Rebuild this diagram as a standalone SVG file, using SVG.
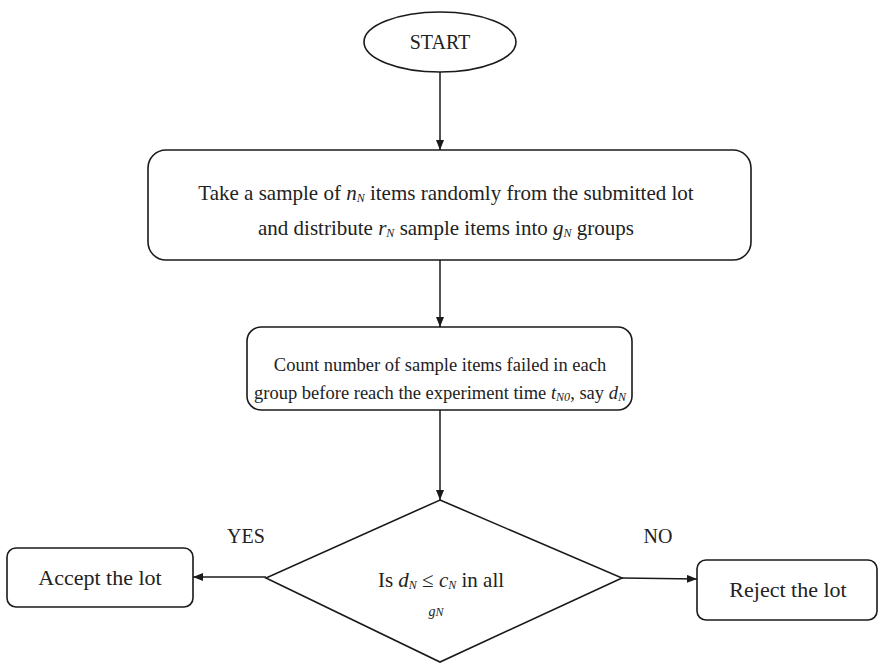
<svg xmlns="http://www.w3.org/2000/svg" width="879" height="669" viewBox="0 0 879 669">
<defs>
<marker id="ah" markerWidth="10" markerHeight="8" refX="10" refY="4" orient="auto" markerUnits="userSpaceOnUse">
<path d="M0,0 L10,4 L0,8 Z" fill="#1a1a1a"/>
</marker>
<style>
.sh{fill:#fff;stroke:#1a1a1a;stroke-width:1.6}
.t{font-family:"Liberation Serif","Times New Roman",serif;font-size:20px;fill:#222;text-anchor:middle}
.b1{font-size:21px}
.b2{font-size:18.5px}
.b3{font-size:22px}
.i{font-style:italic}
.s{font-style:italic;font-size:12px}
.c{stroke:#1a1a1a;stroke-width:1.5;fill:none;marker-end:url(#ah)}
</style>
</defs>
<rect width="879" height="669" fill="#fff"/>
<g id="start">
<ellipse class="sh" cx="440" cy="42" rx="76" ry="30"/>
<text class="t" x="440" y="49">START</text>
</g>
<g id="sample">
<rect class="sh" x="148" y="150" width="603" height="110" rx="18"/>
<text class="t b1" x="446" y="200">Take a sample of <tspan class="i">n</tspan><tspan class="s" dy="2">N</tspan><tspan dy="-2"> items randomly from the submitted lot</tspan></text>
<text class="t b1" x="446" y="235">and distribute <tspan class="i">r</tspan><tspan class="s" dy="2">N</tspan><tspan dy="-2"> sample items into </tspan><tspan class="i">g</tspan><tspan class="s" dy="2">N</tspan><tspan dy="-2"> groups</tspan></text>
</g>
<g id="count">
<rect class="sh" x="247" y="327" width="385" height="83" rx="14"/>
<text class="t b2" x="440" y="371">Count number of sample items failed in each</text>
<text class="t b2" x="440" y="399">group before reach the experiment time <tspan class="i">t</tspan><tspan class="s" dy="2">N0</tspan><tspan dy="-2">, say </tspan><tspan class="i">d</tspan><tspan class="s" dy="2">N</tspan></text>
</g>
<g id="decision">
<polygon class="sh" points="440,500 622,578 440,662 266,578"/>
<text class="t b1" x="441" y="587">Is <tspan class="i">d</tspan><tspan class="s" dy="2">N</tspan><tspan dy="-2"> ≤ </tspan><tspan class="i">c</tspan><tspan class="s" dy="2">N</tspan><tspan dy="-2"> in all</tspan></text>
<text class="t" x="436" y="616"><tspan class="i" font-size="14">g</tspan><tspan class="s" font-size="11">N</tspan></text>
</g>
<g id="accept">
<rect class="sh" x="7" y="548" width="186" height="59" rx="9"/>
<text class="t b3" x="100" y="585">Accept the lot</text>
</g>
<g id="reject">
<rect class="sh" x="697" y="560" width="180" height="60" rx="9"/>
<text class="t b3" x="788" y="597">Reject the lot</text>
</g>
<g id="labels">
<text class="t" x="246" y="543">YES</text>
<text class="t" x="658" y="543">NO</text>
</g>
<g id="connectors">
<line class="c" x1="440" y1="72" x2="440" y2="150"/>
<line class="c" x1="440" y1="260" x2="440" y2="327"/>
<line class="c" x1="440" y1="410" x2="440" y2="500"/>
<line class="c" x1="266" y1="577" x2="193" y2="577"/>
<line class="c" x1="622" y1="578" x2="697" y2="579"/>
</g>
</svg>
